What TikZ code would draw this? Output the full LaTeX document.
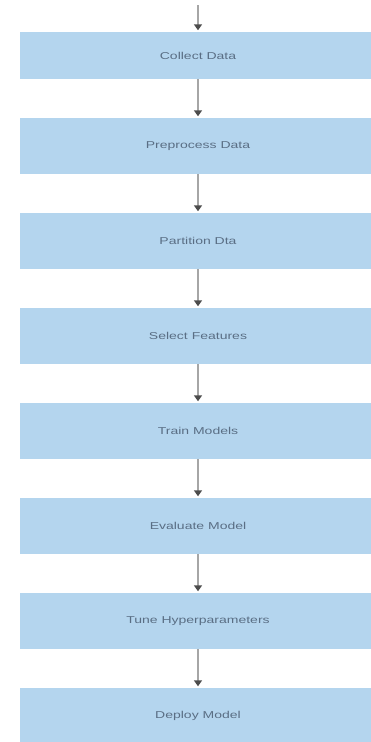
\documentclass[tikz,border=0pt]{standalone}
\usepackage{fontspec}
\newfontfamily\stepfont[FakeStretch=1.4]{Liberation Sans}
\usetikzlibrary{%
  arrows.meta,%
  positioning%
}
\definecolor{stepblue}{HTML}{B4D5EE}
\definecolor{steptext}{HTML}{5A6E84}

\begin{document}
\begin{tikzpicture}
  [
  x=1pt, y=-1pt,
  font=\stepfont\fontsize{10}{12}\selectfont,
  stepbox/.style={rectangle, minimum height=56pt, minimum width=356pt, fill=stepblue, text=steptext, inner sep=0pt},
  flow/.style={draw=gray!70, line width=1.6pt, shorten >=1.5pt, -{Triangle[width=8pt,length=6pt,color=black!70]}}
  ]
\useasboundingbox (0,0) rectangle (371,742);

\node[stepbox, minimum height=47pt] (s1) at (198,55.5) {Collect Data};

\foreach \i/\t in {2/{Preprocess Data},3/{Partition Dta},4/{Select Features},5/{Train Models},6/{Evaluate Model},7/{Tune Hyperparameters},8/{Deploy Model}} {
  \node[stepbox] (s\i) at (198,146+95*\i-190) {\t};
}

\coordinate (start) at (198,5);

\draw[flow] (start) -- (s1.north);
\draw[flow] (s1) -- (s2);
\draw[flow] (s2) -- (s3);
\draw[flow] (s3) -- (s4);
\draw[flow] (s4) -- (s5);
\draw[flow] (s5) -- (s6);
\draw[flow] (s6) -- (s7);
\draw[flow] (s7) -- (s8);
\end{tikzpicture}
\end{document}
